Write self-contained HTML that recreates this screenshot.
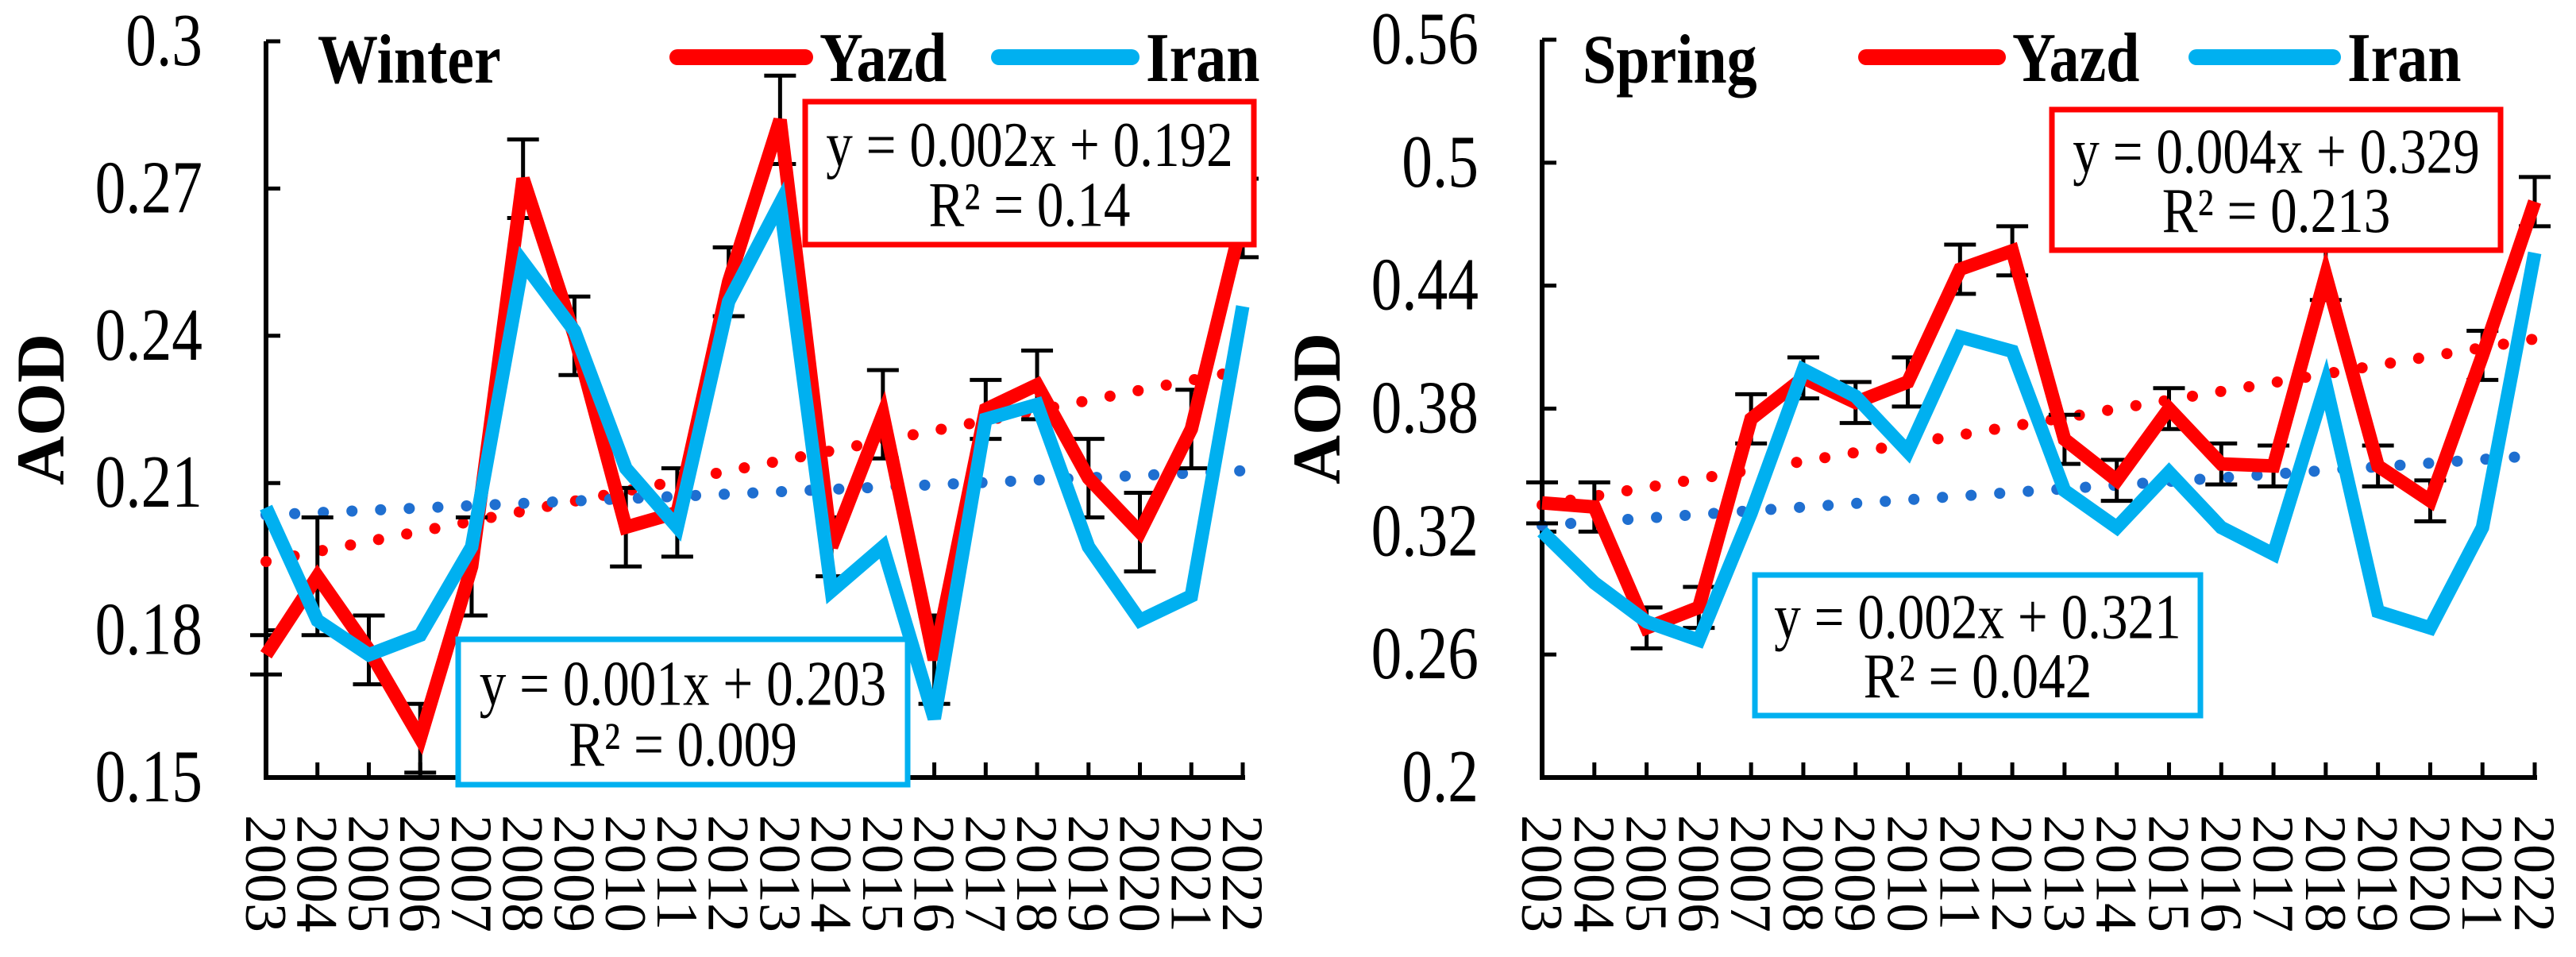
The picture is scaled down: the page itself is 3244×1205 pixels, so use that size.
<!DOCTYPE html>
<html><head><meta charset="utf-8"><style>
html,body{margin:0;padding:0;background:#fff;}
svg, svg text{font-family:"Liberation Serif","Times New Roman","DejaVu Serif",serif;}
</style></head><body>
<svg id="c" width="3244" height="1200" viewBox="0 0 3244 1200" font-family="Liberation Serif, serif"></svg>
<script>
const years=["2003","2004","2005","2006","2007","2008","2009","2010","2011","2012","2013","2014","2015","2016","2017","2018","2019","2020","2021","2022"];
const winterYazd=[0.175,0.191,0.176,0.158,0.193,0.272,0.240,0.201,0.204,0.251,0.284,0.197,0.224,0.174,0.225,0.230,0.211,0.200,0.221,0.264];
const winterIran=[0.205,0.182,0.175,0.179,0.197,0.255,0.241,0.213,0.201,0.247,0.267,0.188,0.197,0.162,0.223,0.226,0.197,0.182,0.187,0.246];
const winterErr=[0.004,0.012,0.007,0.007,0.010,0.008,0.008,0.008,0.009,0.007,0.009,0.006,0.009,0.009,0.006,0.007,0.008,0.008,0.008,0.008];
const springYazd=[0.334,0.332,0.273,0.283,0.375,0.395,0.383,0.393,0.448,0.457,0.365,0.345,0.380,0.353,0.352,0.445,0.352,0.335,0.406,0.481];
const springIran=[0.320,0.295,0.276,0.267,0.329,0.399,0.386,0.359,0.415,0.408,0.340,0.322,0.349,0.322,0.309,0.392,0.281,0.273,0.322,0.456];
const springErr=[0.010,0.012,0.010,0.010,0.012,0.010,0.010,0.012,0.012,0.012,0.012,0.010,0.010,0.010,0.010,0.012,0.010,0.010,0.012,0.012];
const winterTicks=[0.15,0.18,0.21,0.24,0.27,0.3];
const springTicks=[0.2,0.26,0.32,0.38,0.44,0.5,0.56];
// trend line start/end values [yazdStart, yazdEnd, iranStart, iranEnd]
const winterTrend=[0.194,0.233,0.2035,0.2125];
const springTrend=[0.333,0.414,0.323,0.357];

const NS="http://www.w3.org/2000/svg";
const svg=document.getElementById('c');
const FF='"Liberation Serif", serif';
function mk(tag,attrs,parent,text){const e=document.createElementNS(NS,tag);for(const k in attrs)e.setAttribute(k,attrs[k]);if(tag==='text')e.style.fontFamily=FF;if(text!==undefined)e.textContent=text;(parent||svg).appendChild(e);return e;}

function chart(o){
  const g=mk('g',{});
  
  
  const n=years.length-1;
  const xS=i=>o.x0+i*(o.x1-o.x0)/n;
  const yS=v=>o.yb+(v-o.min)/(o.max-o.min)*(o.yt-o.yb);
  const ax=mk('path',{d:`M${o.x0} ${o.yt} V${o.yb} H${o.x1+3}`,stroke:'#000','stroke-width':6,fill:'none'},g);
  
  
  o.ticks.forEach(t=>{
    const y=yS(t);
    const tk=mk('line',{x1:o.x0,x2:o.x0+18,y1:y,y2:y,stroke:'#000','stroke-width':5},g);
    
    
    const lb=mk('text',{transform:`translate(${o.x0-80},${y+30}) scale(0.9,1.1)`,'font-size':86,'text-anchor':'end'},g,String(t));
    
    
  });
  years.forEach((yr,i)=>{
    const x=xS(i);
    const tk=mk('line',{x1:x,x2:x,y1:o.yb,y2:o.yb-19,stroke:'#000','stroke-width':5},g);
    
    
    const lb=mk('text',{transform:`translate(${x},1026) rotate(90)`,y:25,'font-size':74},g,yr);
    
    
  });
  const yl=mk('text',{transform:`translate(${o.x0-255},${(o.yt+o.yb)/2}) rotate(-90)`,'font-size':86,'font-weight':'bold','text-anchor':'middle'},g,'AOD');
  
  
  [[o.trend[0],o.trend[1],'#ff0000','yazd'],[o.trend[2],o.trend[3],'#1f6fd0','iran']].forEach(([a,b,c,nm])=>{
    const tl=mk('line',{x1:xS(0),y1:yS(a),x2:xS(n),y2:yS(b),stroke:c,'stroke-width':14,'stroke-dasharray':'0.1 36','stroke-linecap':'round'},g);
    
    
  });
  years.forEach((_,i)=>{
    const x=xS(i),v=o.yazd[i],e=o.err[i];
    const y1=yS(v+e),y2=yS(v-e);
    const eb=mk('path',{d:`M${x} ${y1} V${y2} M${x-20} ${y1} H${x+20} M${x-20} ${y2} H${x+20}`,stroke:'#000','stroke-width':5,fill:'none'},g);
    
    
  });
  [[o.yazd,'#ff0000','yazd'],[o.iran,'#00b0f0','iran']].forEach(([d,c,nm])=>{
    const pts=d.map((v,i)=>`${xS(i)},${yS(v)}`).join(' ');
    const l=mk('polyline',{points:pts,stroke:c,'stroke-width':17,fill:'none','stroke-linejoin':'miter'},g);
    
    
  });
  const t=mk('text',{transform:`translate(${o.titleX},104) scale(0.95,1.1)`,'font-size':80,'font-weight':'bold'},g,o.title);
  
  
  [[o.lg[0],o.lg[1],'#ff0000','Yazd'],[o.lg[2],o.lg[3],'#00b0f0','Iran']].forEach(([a,b,c,nm])=>{
    const le=mk('g',{},g);
    
    
    mk('line',{x1:a,x2:b,y1:72,y2:72,stroke:c,'stroke-width':20,'stroke-linecap':'round'},le);
    mk('text',{transform:`translate(${b+18},102) scale(0.95,1.1)`,'font-size':80,'font-weight':'bold'},le,nm);
  });
  o.boxes.forEach(([x,y,w,h,c,l1,l2,nm])=>{
    const bg=mk('g',{},g);
    
    
    mk('rect',{x:x,y:y,width:w,height:h,fill:'#fff',stroke:c,'stroke-width':7},bg);
    mk('text',{transform:`translate(${x+w/2},${y+h*0.45}) scale(0.84,1)`,'font-size':80,'text-anchor':'middle'},bg,l1);
    mk('text',{transform:`translate(${x+w/2},${y+h*0.87}) scale(0.84,1)`,'font-size':80,'text-anchor':'middle'},bg,l2);
  });
}
chart({name:'winter',title:'Winter',titleX:400,x0:335,x1:1565,yt:52,yb:979,min:0.15,max:0.3,ticks:winterTicks,
  yazd:winterYazd,iran:winterIran,err:winterErr,trend:winterTrend,lg:[853,1014,1258,1425],
  boxes:[[1014,128,565,180,'#ff0000','y = 0.002x + 0.192','R² = 0.14','yazd'],[577,805,566,183,'#00b0f0','y = 0.001x + 0.203','R² = 0.009','iran']]});
chart({name:'spring',title:'Spring',titleX:1993,x0:1942,x1:3192,yt:50,yb:979,min:0.2,max:0.56,ticks:springTicks,
  yazd:springYazd,iran:springIran,err:springErr,trend:springTrend,lg:[2350,2516,2766,2938],
  boxes:[[2584,138,565,177,'#ff0000','y = 0.004x + 0.329','R² = 0.213','yazd'],[2210,724,561,177,'#00b0f0','y = 0.002x + 0.321','R² = 0.042','iran']]});
</script>
</body></html>
